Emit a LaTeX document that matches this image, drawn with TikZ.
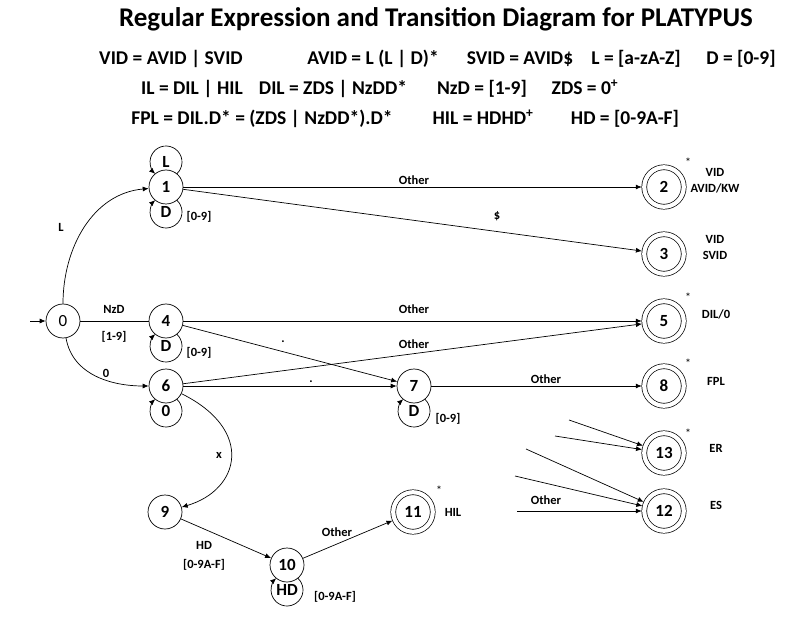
\documentclass[tikz,border=0pt]{standalone}
\usepackage{fontspec}
\setmainfont{Carlito}
\usetikzlibrary{arrows.meta}
\newcommand\myloopabove[3]{%
  \coordinate (#2) at ([yshift=25]#1.center);
  \draw[arr] ([shift={(-47.7:16)}]#2) arc[start angle=-47.7,end angle=227.7,radius=16];
  \node[lp] (#2t) at (#2) {#3};}
\newcommand\myloopbelow[3]{%
  \coordinate (#2) at ([yshift=-25]#1.center);
  \draw[arr] ([shift={(47.7:16)}]#2) arc[start angle=47.7,end angle=-227.7,radius=16];
  \node[lp] (#2t) at (#2) {#3};}
\begin{document}
\begin{tikzpicture}[x=1pt,y=1pt,line width=0.7pt,
  st/.style={circle,draw,fill=white,minimum size=34,inner sep=0,font=\bfseries\fontsize{17}{17}\selectfont},
  acc/.style={st,minimum size=39.5,double,double distance=4.2,outer sep=2.5},
  lbl/.style={font=\bfseries\fontsize{12.5}{13}\selectfont,inner sep=0},
  lp/.style={font=\bfseries\fontsize{17}{17}\selectfont,inner sep=0},
  star/.style={font=\fontsize{12}{12}\selectfont,inner sep=0},
  eq/.style={font=\bfseries\fontsize{19.5}{20}\selectfont,inner sep=0,anchor=base},
  arr/.style={-{Latex[length=6,width=5]}}]
\useasboundingbox (0,0) rectangle (805,-617);
% title and equations
\node[font=\bfseries\fontsize{27}{27}\selectfont,inner sep=0] (title) at (436,-19) {Regular Expression and Transition Diagram for PLATYPUS};
\node[eq] (e1) at (171,-65) {VID = AVID | SVID};
\node[eq] (e2) at (373,-65) {AVID = L (L | D)*};
\node[eq] (e3) at (520,-65) {SVID = AVID\$};
\node[eq] (e4) at (636,-65) {L = [a-zA-Z]};
\node[eq] (e5) at (741,-65) {D = [0-9]};
\node[eq] (e6) at (192,-95) {IL = DIL | HIL};
\node[eq] (e7) at (333,-95) {DIL = ZDS | NzDD*};
\node[eq] (e8) at (482,-95) {NzD = [1-9]};
\node[eq] (e9) at (585,-95) {ZDS = 0\textsuperscript{+}};
\node[eq] (e10) at (262,-125) {FPL = DIL.D* = (ZDS | NzDD*).D*};
\node[eq] (e11) at (483,-125) {HIL = HDHD\textsuperscript{+}};
\node[eq] (e12) at (625,-125) {HD = [0-9A-F]};
% states
\node[st] (n0) at (63,-321) {\mdseries 0};
\node[st] (n1) at (166,-187) {1};
\node[acc] (n2) at (664,-187) {2};
\node[acc] (n3) at (664,-254) {3};
\node[st] (n4) at (166,-321) {4};
\node[acc] (n5) at (664,-321) {5};
\node[st] (n6) at (166,-386) {6};
\node[st] (n7) at (414,-386) {7};
\node[acc] (n8) at (664,-386) {8};
\node[st] (n9) at (165,-512) {9};
\node[st] (n10) at (287,-565) {10};
\node[acc] (n11) at (413,-512) {11};
\node[acc] (n12) at (664,-511) {12};
\node[acc] (n13) at (664,-453) {13};
% loops
\myloopabove{n1}{lL1}{L}
\myloopbelow{n1}{lD1}{D}
\myloopbelow{n4}{lD4}{D}
\myloopbelow{n6}{lZ6}{0}
\myloopbelow{n7}{lD7}{D}
\myloopbelow{n10}{lH10}{HD}
% edges
\coordinate (s0) at (30,-321);
\draw[arr] (s0) -- (n0);
\draw[arr] (n0) to[out=90,in=185] (n1);
\draw (n0) -- (n4);
\draw[arr] (n0) to[out=-80,in=180] (n6);
\draw[arr] (n1) -- (n2);
\draw[arr] (n1) -- (n3);
\draw[arr] (n4) -- (n5);
\draw[arr] (n4) -- (n7);
\draw[arr] (n6) -- (n5);
\draw[arr] (n6) -- (n7);
\draw[arr] (n7) -- (n8);
\draw[arr] (n6) .. controls (255,-430) and (240,-490) .. (n9);
\draw[arr] (n9) -- (n10);
\draw[arr] (n10) -- (n11);
\coordinate (d1) at (569,-420);
\coordinate (d2) at (555,-436);
\coordinate (d3) at (526,-449);
\coordinate (d4) at (515,-476);
\coordinate (d5) at (517,-511);
\draw[arr] (d1) -- (n13);
\draw[arr] (d2) -- (n13);
\draw[arr] (d3) -- (n12);
\draw[arr] (d4) -- (n12);
\draw[arr] (d5) -- (n12);
% edge labels
\node[lbl] (t1) at (414,-180) {Other};
\node[lbl] (t2) at (497,-216) {\$};
\node[lbl] (t3) at (61,-227) {L};
\node[lbl] (t4) at (199,-217) {[0-9]};
\node[lbl] (t5) at (114,-309) {NzD};
\node[lbl] (t6) at (114,-337) {[1-9]};
\node[lbl] (t7) at (199,-353) {[0-9]};
\node[lbl] (t8) at (106,-373) {0};
\node[lbl] (t9) at (283,-342) {.};
\node[lbl] (t10) at (311,-382) {.};
\node[lbl] (t11) at (414,-309) {Other};
\node[lbl] (t12) at (414,-344) {Other};
\node[lbl] (t13) at (546,-379) {Other};
\node[lbl] (t14) at (448,-419) {[0-9]};
\node[lbl] (t15) at (546,-500) {Other};
\node[lbl] (t16) at (219,-455) {x};
\node[lbl] (t17) at (204,-545) {HD};
\node[lbl] (t18) at (204,-565) {[0-9A-F]};
\node[lbl] (t19) at (337,-532) {Other};
\node[lbl] (t20) at (335,-597) {[0-9A-F]};
% final state labels
\node[star] (s2) at (688,-162) {*};
\node[star] (s5) at (688,-297) {*};
\node[star] (s8) at (688,-363) {*};
\node[star] (s13) at (688,-433) {*};
\node[star] (s11) at (439,-490) {*};
\node[lbl] (f2a) at (715,-172) {VID};
\node[lbl] (f2b) at (715,-188) {AVID/KW};
\node[lbl] (f3a) at (715,-239) {VID};
\node[lbl] (f3b) at (715,-255) {SVID};
\node[lbl] (f5) at (716,-314) {DIL/0};
\node[lbl] (f8) at (716,-381) {FPL};
\node[lbl] (f13) at (716,-448) {ER};
\node[lbl] (f12) at (716,-505) {ES};
\node[lbl] (f11) at (453,-512) {HIL};
\end{tikzpicture}
\end{document}
